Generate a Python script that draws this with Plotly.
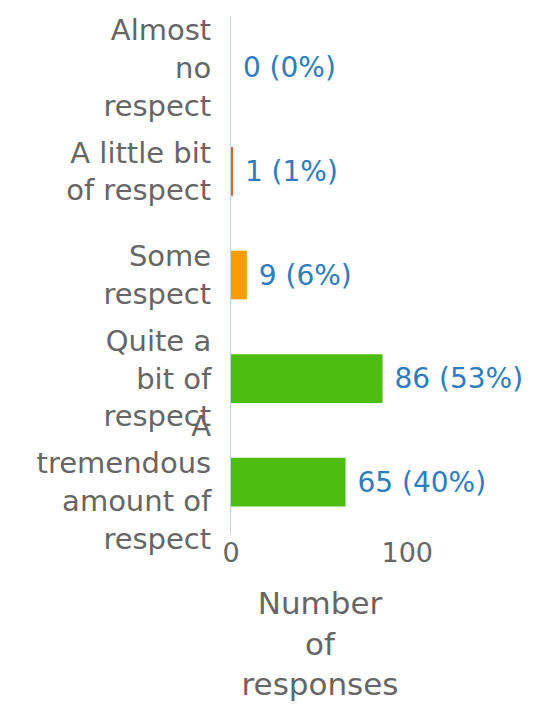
import plotly.graph_objects as go

categories = [
    "Almost<br>no<br>respect",
    "A little bit<br>of respect",
    "Some<br>respect",
    "Quite a<br>bit of<br>respect",
    "A<br>tremendous<br>amount of<br>respect",
]
counts = [0, 1, 9, 86, 65]
percents = [0, 1, 6, 53, 40]
bar_colors = ["#d9381e", "#e8611a", "#f79d00", "#4dbd0f", "#4dbd0f"]

# leading nbsp gives the wider gap seen between bar end and label
labels = [f"\u00a0{c} ({p}%)" for c, p in zip(counts, percents)]

font_family = "DejaVu Sans, sans-serif"

fig = go.Figure()
fig.add_trace(
    go.Bar(
        x=counts,
        y=categories,
        orientation="h",
        marker=dict(color=bar_colors, line=dict(width=0)),
        text=labels,
        textposition="outside",
        textfont=dict(color="#2f7cbf", size=28, family=font_family),
        cliponaxis=False,
        showlegend=False,
    )
)

# page body adds 8px offset, margins account for that
fig.update_layout(
    width=547,
    height=707,
    margin=dict(l=223, r=146, t=8, b=181),
    paper_bgcolor="white",
    plot_bgcolor="white",
    bargap=0.53,
    font=dict(family=font_family, color="#666666"),
)

fig.update_xaxes(
    range=[0, 101],
    tickvals=[0, 100],
    tickfont=dict(size=27, color="#666666"),
    showgrid=False,
    zeroline=False,
    showline=False,
    automargin=False,
    title=dict(text="Number<br>of<br>responses", font=dict(size=31, color="#666666"), standoff=25),
)

fig.update_yaxes(
    autorange="reversed",
    tickfont=dict(size=29, color="#666666"),
    showgrid=False,
    showline=True,
    linecolor="#c5d3ea",
    linewidth=1,
    ticks="",
    automargin=False,
    ticklabelstandoff=13,
)

fig.write_html("out.html")
